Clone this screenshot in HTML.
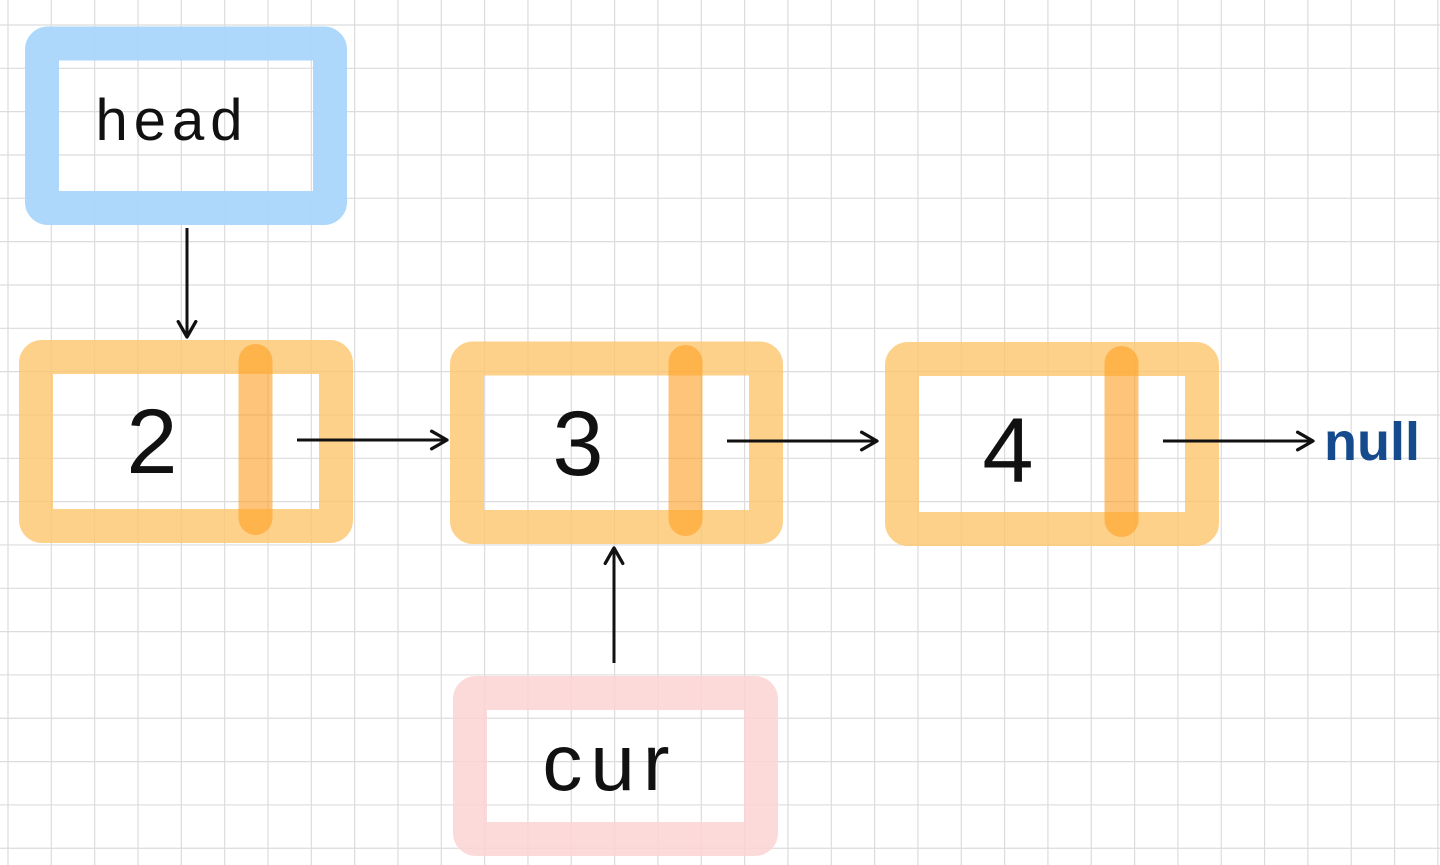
<!DOCTYPE html>
<html><head><meta charset="utf-8"><style>
html,body{margin:0;padding:0;background:#fff;}
svg{display:block;}
text{font-family:"Liberation Sans","DejaVu Sans",sans-serif;}
</style></head><body>
<svg width="1440" height="865" viewBox="0 0 1440 865" xmlns="http://www.w3.org/2000/svg">
<defs>
<marker id="ah" viewBox="0 0 20 20" refX="18" refY="10" markerWidth="22" markerHeight="22" markerUnits="userSpaceOnUse" orient="auto">
<path d="M4 2 L18 10 L4 18" fill="none" stroke="#111" stroke-width="3" stroke-linecap="round" stroke-linejoin="round"/>
</marker>
</defs>
<g id="grid"></g>

<rect x="42" y="43.5" width="288" height="164.5" rx="6" fill="none" stroke="#a9d5fb" stroke-opacity="0.95" stroke-width="34"/>
<text x="172" y="140" font-size="58" text-anchor="middle" fill="#111" letter-spacing="6">head</text>

<g>
<rect x="36" y="357" width="300" height="169" rx="6" fill="none" stroke="#fec66e" stroke-opacity="0.8" stroke-width="34"/>
<line x1="255.5" y1="361" x2="255.5" y2="518" stroke="#fd9f22" stroke-opacity="0.6" stroke-width="34" stroke-linecap="round"/>
<text x="152" y="473" font-size="92" text-anchor="middle" fill="#111">2</text>
</g>
<g>
<rect x="467" y="358.5" width="299" height="168.5" rx="6" fill="none" stroke="#fec66e" stroke-opacity="0.8" stroke-width="34"/>
<line x1="685.5" y1="362" x2="685.5" y2="519" stroke="#fd9f22" stroke-opacity="0.6" stroke-width="34" stroke-linecap="round"/>
<text x="578" y="475" font-size="92" text-anchor="middle" fill="#111">3</text>
</g>
<g>
<rect x="902" y="359" width="300" height="170" rx="6" fill="none" stroke="#fec66e" stroke-opacity="0.8" stroke-width="34"/>
<line x1="1121.5" y1="363" x2="1121.5" y2="520" stroke="#fd9f22" stroke-opacity="0.6" stroke-width="34" stroke-linecap="round"/>
<text x="1008" y="482" font-size="92" text-anchor="middle" fill="#111">4</text>
</g>

<rect x="470" y="693" width="291" height="146" rx="6" fill="none" stroke="#fdd3d4" stroke-opacity="0.85" stroke-width="34"/>
<text x="610" y="790" font-size="80" text-anchor="middle" fill="#111" letter-spacing="8">cur</text>

<line x1="187" y1="228" x2="187" y2="337" stroke="#111" stroke-width="3" marker-end="url(#ah)"/>
<line x1="297" y1="440" x2="447" y2="440" stroke="#111" stroke-width="3" marker-end="url(#ah)"/>
<line x1="727" y1="441" x2="877" y2="441" stroke="#111" stroke-width="3" marker-end="url(#ah)"/>
<line x1="1163" y1="441" x2="1313" y2="441" stroke="#111" stroke-width="3" marker-end="url(#ah)"/>
<line x1="614" y1="663" x2="614" y2="548" stroke="#111" stroke-width="3" marker-end="url(#ah)"/>

<text x="1372" y="460" font-size="54" font-weight="bold" text-anchor="middle" fill="#154a8c">null</text>
</svg>
<script>
const g=document.getElementById('grid');
const ns='http://www.w3.org/2000/svg';
const step=43.33;
for(let x=8;x<1440;x+=step){const l=document.createElementNS(ns,'line');


l.setAttribute('x1',x);l.setAttribute('x2',x);l.setAttribute('y1',0);l.setAttribute('y2',865);l.setAttribute('stroke','#dcdcdc');l.setAttribute('stroke-width','1.2');g.appendChild(l);}
for(let y=25;y<865;y+=step){const l=document.createElementNS(ns,'line');


l.setAttribute('y1',y);l.setAttribute('y2',y);l.setAttribute('x1',0);l.setAttribute('x2',1440);l.setAttribute('stroke','#dcdcdc');l.setAttribute('stroke-width','1.2');g.appendChild(l);}
</script>
</body></html>
